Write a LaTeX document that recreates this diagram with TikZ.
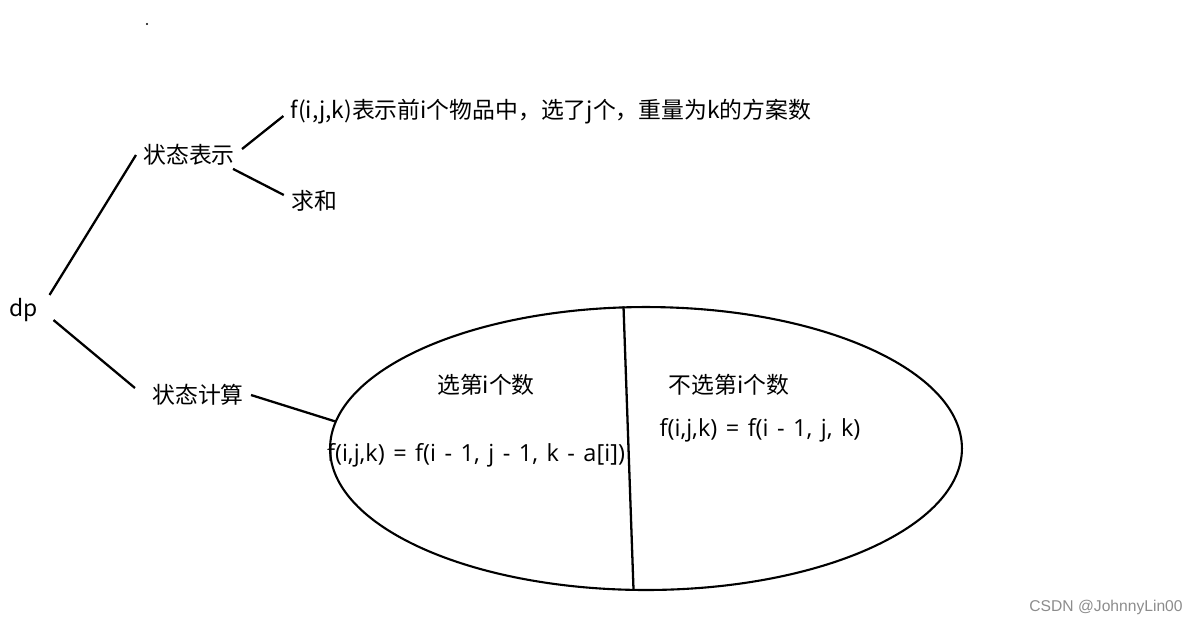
\documentclass[tikz,border=0pt]{standalone}
\usepackage{fontspec}
\setmainfont{Noto Sans CJK SC}
\newfontfamily\latfont{Open Sans}
\newfontfamily\wmfont{Liberation Sans}
\newcommand\formfont{\fontsize{13.4}{15}\selectfont\latfont\spaceskip=0.36em plus 0.1em\relax}
\usetikzlibrary{shapes.geometric}
\begin{document}
\begin{tikzpicture}[x=0.02cm, y=-0.02cm,
  txt/.style={font=\fontsize{13}{15}\selectfont, inner sep=0.14cm},
  formula/.style={txt, font=\formfont},
  branch/.style={line width=1.3pt, black}]

\useasboundingbox (0,0) rectangle (1199,627);

%dot
\fill (147,24) circle (1.2);

%ellipse
\node [draw, ellipse, line width=1.2pt, inner sep=0, minimum width=12.64cm, minimum height=5.66cm] (ell) at (646,448.5) {};

%labels
\node [txt] (dp) at (24,310) {dp};
\node [txt] (sr) at (189,155) {状态表示};
\node [txt] (f1) at (551,112) {f(i,j,k)表示前i个物品中，选了j个，重量为k的方案数};
\node [txt] (qh) at (314,201) {求和};
\node [txt] (sc) at (198,395) {状态计算};
\node [txt] (xz) at (486,385) {选第i个数};
\node [txt] (bx) at (729,385) {不选第i个数};
\node [formula] (e1) at (476,455) {f(i,j,k) = f(i - 1, j - 1, k - a[i])};
\node [formula] (e2) at (760,430) {f(i,j,k) = f(i - 1, j, k)};

%lines
\draw [branch] ([xshift=0.08cm, yshift=-0.08cm]dp.north east) -- (sr.west);
\draw [branch] ([xshift=0.16cm, yshift=0.18cm]dp.south east) -- ([xshift=-0.2cm, yshift=0.14cm]sc.west);
\draw [branch] ([yshift=0.12cm]sr.east) -- ([yshift=-0.08cm]f1.west);
\draw [branch] ([xshift=-0.18cm, yshift=0.08cm]sr.south east) -- ([yshift=0.12cm]qh.west);
\draw [branch] (sc.east) -- (ell.175);
\draw [branch] (ell.99) -- (ell.265.5);

%watermark
\node [anchor=east, inner sep=0, text=black!45, font=\fontsize{8.9}{11}\selectfont\wmfont] (wm) at (1183,607) {CSDN @JohnnyLin00};

\end{tikzpicture}
\end{document}
